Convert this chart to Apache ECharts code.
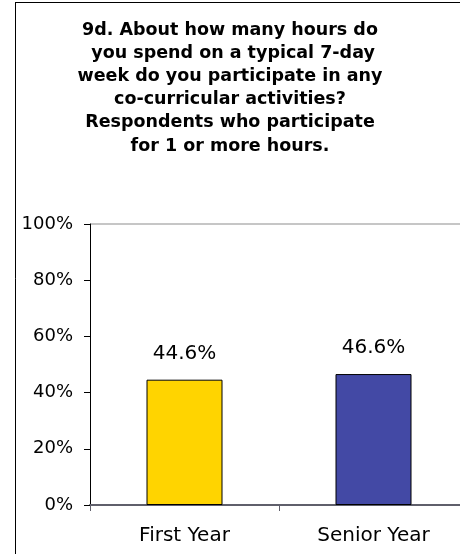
<!DOCTYPE html>
<html>
<head>
<meta charset="utf-8">
<script src="https://cdn.jsdelivr.net/npm/echarts@6/dist/echarts.min.js"></script>
<style>
html,body{margin:0;padding:0;background:#fff;overflow:hidden;width:460px;height:554px;}
#chart{width:470px;height:554px;}
</style>
</head>
<body>
<div id="chart"></div>
<script>
const titleLines = [
  "9d. About how many hours do",
  " you spend on a typical 7-day",
  "week do you participate in any",
  "co-curricular activities?",
  "Respondents who participate",
  "for 1 or more hours."
];
const categories = ["First Year", "Senior Year"];
const values = [44.6, 46.6];
const barColors = ["#FFD400", "#4349A5"];
const yMin = 0, yMax = 100, yStep = 20;

const chart = echarts.init(document.getElementById('chart'), null, {renderer: 'canvas'});
const FONT = 'DejaVu Sans';
chart.setOption({
  animation: false,
  backgroundColor: '#ffffff',
  title: {
    text: titleLines.join('\n'),
    left: 230,
    textAlign: 'center',
    top: 19,
    padding: 0,
    textStyle: {
      fontFamily: FONT,
      fontWeight: 'bold',
      fontSize: 17.5,
      lineHeight: 23.1,
      color: '#000'
    }
  },
  grid: {left: 90, top: 224, width: 378, height: 281, containLabel: false},
  xAxis: {
    type: 'category',
    data: categories,
    axisLine: {lineStyle: {color: '#5f5f6b', width: 2}},
    axisTick: {show: true, length: 6, lineStyle: {color: '#5f5f6b', width: 1}},
    axisLabel: {fontFamily: FONT, fontSize: 20, color: '#000', margin: 21}
  },
  yAxis: {
    type: 'value',
    min: yMin, max: yMax, interval: yStep,
    axisLine: {show: true, lineStyle: {color: '#000', width: 1}},
    axisTick: {show: true, length: 6, lineStyle: {color: '#000', width: 1}},
    axisLabel: {fontFamily: FONT, fontSize: 18, color: '#000', margin: 17, formatter: '{value}%'},
    splitLine: {show: true, lineStyle: {color: ['rgba(0,0,0,0)','rgba(0,0,0,0)','rgba(0,0,0,0)','rgba(0,0,0,0)','rgba(0,0,0,0)','#c6c6c6'], width: 2}}
  },
  series: [{
    type: 'bar',
    data: values,
    barWidth: 76,
    itemStyle: {
      color: p => barColors[p.dataIndex],
      borderColor: '#000',
      borderWidth: 1
    },
    label: {
      show: true,
      position: 'top',
      distance: 16,
      fontFamily: FONT,
      fontSize: 20,
      color: '#000',
      formatter: p => p.value.toFixed(1) + '%'
    }
  }],
  graphic: [
    {type: 'line', shape: {x1: 15.5, y1: 2.5, x2: 15.5, y2: 554}, style: {stroke: '#000', lineWidth: 1}, silent: true},
    {type: 'line', shape: {x1: 15, y1: 2.5, x2: 470, y2: 2.5}, style: {stroke: '#000', lineWidth: 1}, silent: true}
  ]
});
</script>
</body>
</html>
